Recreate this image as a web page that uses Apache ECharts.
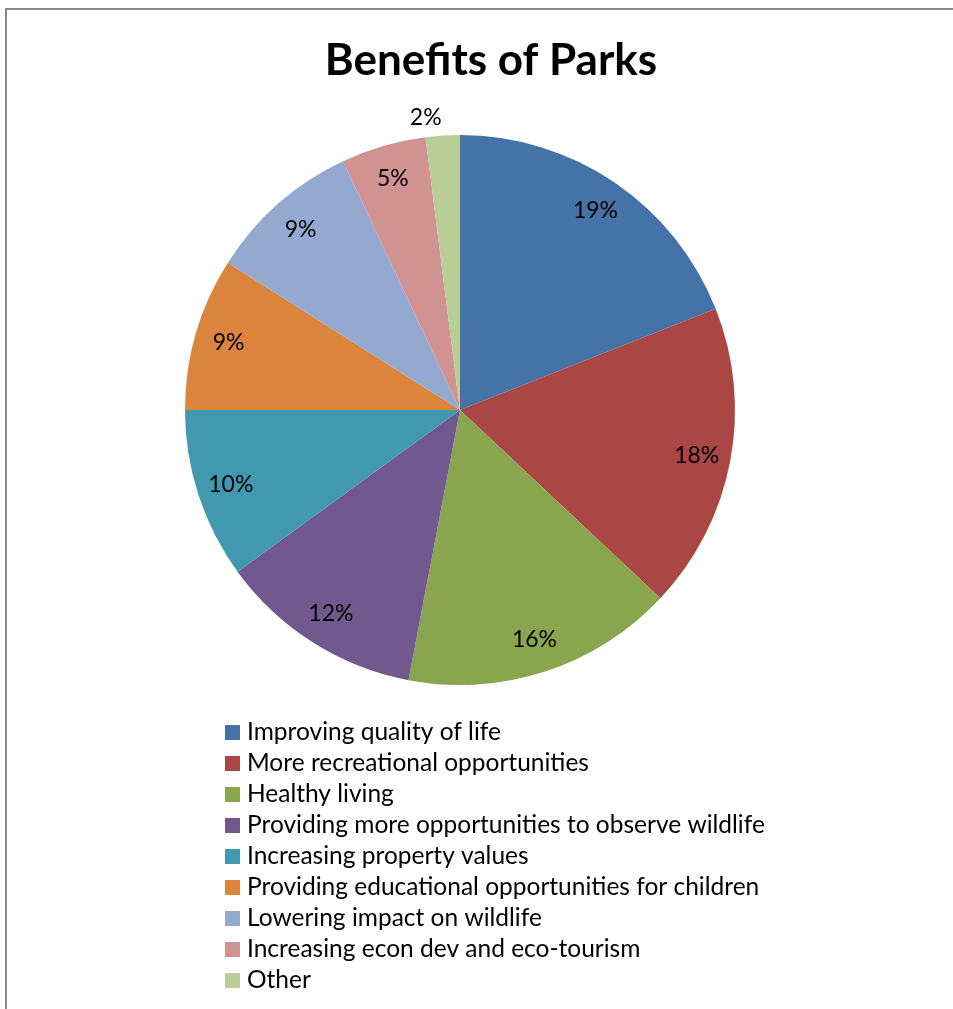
<!DOCTYPE html>
<html>
<head>
<meta charset="utf-8">
<script src="https://cdn.jsdelivr.net/npm/echarts@6/dist/echarts.min.js"></script>
<style>
  html, body { margin: 0; padding: 0; background: #fff; }
  #frame { position: absolute; left: 5px; top: 8px; width: 960px; height: 1010px;
           border-left: 2px solid #8a8a8a; border-top: 2px solid #8a8a8a; box-sizing: border-box; }
  #chart { position: absolute; left: 0; top: 0; width: 953px; height: 1009px; }
</style>
</head>
<body>
<div id="frame"></div>
<div id="chart"></div>
<script>
// Share of respondents naming each benefit of parks (percent)
const categories = [
  'Improving quality of life',
  'More recreational opportunities',
  'Healthy living',
  'Providing more opportunities to observe wildlife',
  'Increasing property values',
  'Providing educational opportunities for children',
  'Lowering impact on wildlife',
  'Increasing econ dev and eco-tourism',
  'Other'
];
const shares = [19, 18, 16, 12, 10, 9, 9, 5, 2];
const colors = ['#4572A7', '#AA4643', '#89A54E', '#71588F', '#4198AF',
                '#DB843D', '#93A9CF', '#D19392', '#B9CD96'];

const FONT = 'Lato';
const pieData = categories.map((name, i) => ({ name, value: shares[i] }));

// Label ring: same data, transparent slices, labels sit near the outer rim
const labelData = categories.map((name, i) => {
  const item = { name, value: shares[i] };
  if (i === categories.length - 1) {
    item.label = { position: 'outside', distanceToLabelLine: 0 };
    item.labelLine = { show: false, length: 18, length2: 0 };
  }
  return item;
});

const chart = echarts.init(document.getElementById('chart'), null, { renderer: 'canvas' });
chart.setOption({
  animation: false,
  color: colors,
  title: {
    text: 'Benefits of Parks',
    left: 486, top: 34, textAlign: 'center',
    textStyle: { fontFamily: FONT, fontWeight: 'bold', fontSize: 44, color: '#000' }
  },
  legend: {
    orient: 'vertical',
    left: 220, top: 715,
    itemWidth: 15, itemHeight: 15, itemGap: 6,
    icon: 'rect',
    selectedMode: false,
    textStyle: { fontFamily: FONT, fontSize: 24.5, lineHeight: 24, color: '#000', padding: [0, 0, 0, 2] },
    data: categories
  },
  series: [
    {
      type: 'pie',
      center: [460, 410],
      radius: [0, 275],
      startAngle: 90,
      clockwise: true,
      silent: true,
      label: { show: false },
      labelLine: { show: false },
      itemStyle: { borderWidth: 0 },
      data: pieData
    },
    {
      type: 'pie',
      center: [460, 410],
      radius: [201, 275],
      startAngle: 90,
      clockwise: true,
      silent: true,
      legendHoverLink: false,
      itemStyle: { color: 'rgba(0,0,0,0)', borderWidth: 0 },
      label: {
        show: true, position: 'inside',
        formatter: '{c}%',
        fontFamily: FONT, fontSize: 23, color: '#000'
      },
      labelLine: { show: false },
      data: labelData
    }
  ]
});
</script>
</body>
</html>
